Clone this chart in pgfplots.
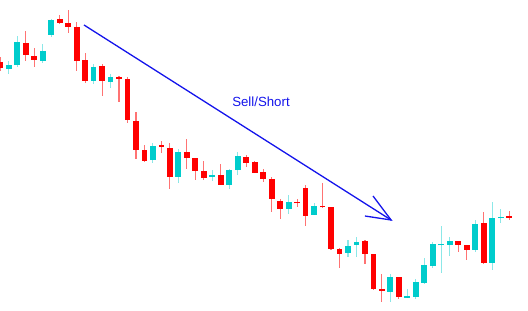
\documentclass[border=0pt]{standalone}
\usepackage{pgfplots}
\pgfplotsset{compat=1.18}
\usepackage{pgfplotstable}
\usepackage{fontspec}
\setmainfont{Liberation Sans}
\definecolor{bull}{RGB}{0,204,204}
\definecolor{bear}{RGB}{255,0,0}
\definecolor{arrowblue}{RGB}{20,20,235}

% i  top  bot  hi  lo   (price units)
\pgfplotstableread{
i top bot hi lo
0 249 243 254 240
3 268 256 280 250
4 255 251 263 244
7 292 288 296 287
8 288 284 301 278
9 284 250 289 240
10 251 230 258 228
12 245 230 247 215
14 234 232 235 209
15 232 191 234 188
16 190 161 199 152
17 161 150 166 149
19 166 164 170 158
20 163 134 168 122
22 159 153 172 142
23 153 140 153 131
24 140 133 150 131
26 136 126 147 126
29 154 148 156 144
30 149 138 150 138
31 139 132 142 129
32 132 112 134 99
33 110 102 112 92
35 109 107.5 112 104
36 123 95 126 85
38 105 103.5 128 103
39 104 62 104 61
40 62 57 63 43
43 70 57 71 47
44 57 22 57 21
45 22 20 37 9
47 34 14 34 12
54 70 66 70 59
55 66 61 66 51
57 88 48 99 47
60 95 93 100 91
}\bears

\pgfplotstableread{
i top bot hi lo
1 246 242 250 237
2 269 246 275 244
5 260 250 267 248
6 291 276 292 274
11 244 230 247 227
13 234 229 237 223
18 165 151 168 148
21 159 134 162 128
25 136 134 141 130
27 141 126 142 122
28 155 141 159 136
34 109 102 116 97
37 105 96 108 96
41 65 58 71 54
42 69 66 74 54
46 34 19 37 9
48 15 13 22 13
49 29 14 32 12
50 46 28 53 27
51 67 45 69 43
52 67 65.5 85 38
53 70 66 74 55
56 87 61 91 59
58 93 48 109 41
59 94 92.5 102 88
}\bulls

\pgfplotsset{candle/.style={only marks, mark=*, mark size=0pt,
  mark options={draw=none, fill=none}, forget plot}}

\begin{document}
\begin{tikzpicture}
\useasboundingbox (0,0) rectangle (528bp,311bp);
\begin{axis}[
  at={(0,0)}, anchor=south west,
  scale only axis, width=512bp, height=311bp,
  xmin=-0.035, xmax=60.34, ymin=0, ymax=311,
  hide axis, clip=true,
]
% wicks
\addplot[candle,
  error bars/.cd, y dir=plus, y explicit, error mark=none,
  error bar style={line width=1.1bp, draw=bear!55}]
  table[x=i, y=lo, y error expr=\thisrow{hi}-\thisrow{lo}] {\bears};
\addplot[candle,
  error bars/.cd, y dir=plus, y explicit, error mark=none,
  error bar style={line width=1.1bp, draw=bull!45}]
  table[x=i, y=lo, y error expr=\thisrow{hi}-\thisrow{lo}] {\bulls};
% bodies
\addplot[candle,
  error bars/.cd, y dir=plus, y explicit, error mark=none,
  error bar style={line width=5.8bp, draw=bear}]
  table[x=i, y=bot, y error expr=\thisrow{top}-\thisrow{bot}] {\bears};
\addplot[candle,
  error bars/.cd, y dir=plus, y explicit, error mark=none,
  error bar style={line width=5.8bp, draw=bull}]
  table[x=i, y=bot, y error expr=\thisrow{top}-\thisrow{bot}] {\bulls};
% arrow
\addplot[arrowblue, line width=1.3bp] coordinates {(9.87,286) (46.08,91)};
\addplot[arrowblue, line width=1.3bp] coordinates {(43.95,115) (46.08,91) (43.0,95)};
\node[text=arrowblue, font=\fontsize{13.3}{15}\selectfont] at (axis cs:30.74,209) {Sell/Short};
\end{axis}
\end{tikzpicture}
\end{document}
